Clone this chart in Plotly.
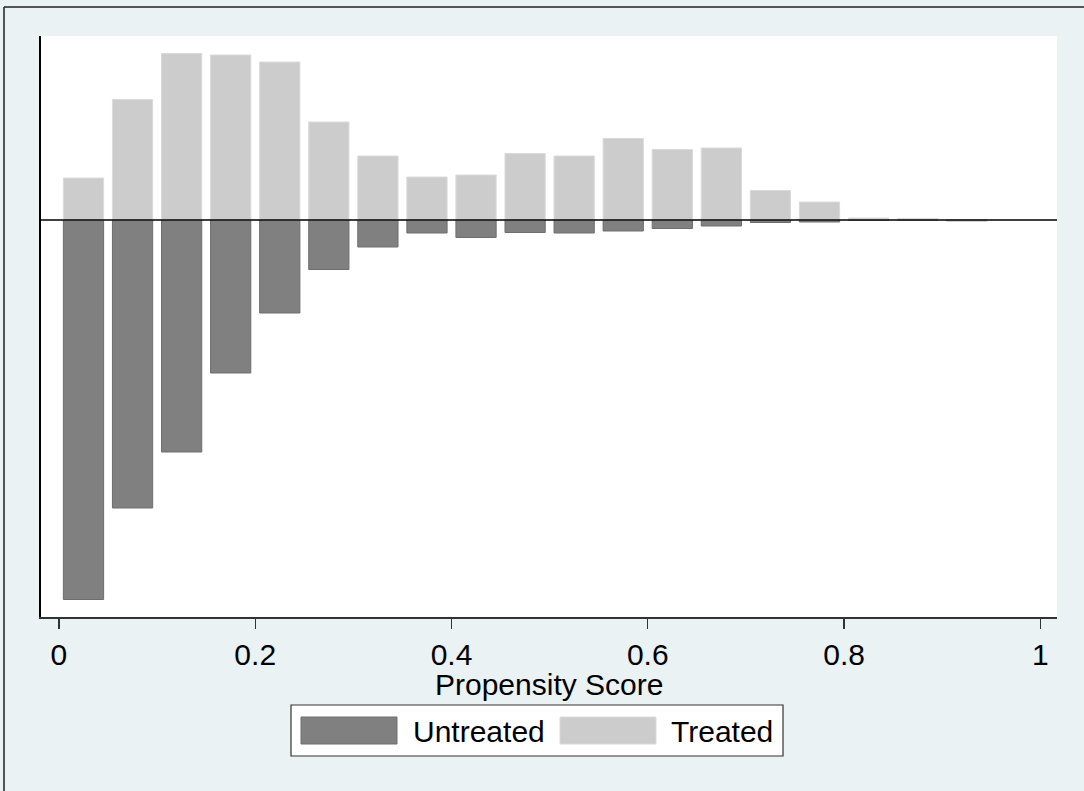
import plotly.graph_objects as go

# Propensity score bins (centres of 0.05-wide bins)
bin_centers = [0.025, 0.075, 0.125, 0.175, 0.225, 0.275, 0.325, 0.375, 0.425, 0.475,
               0.525, 0.575, 0.625, 0.675, 0.725, 0.775, 0.825, 0.875, 0.925]
# Relative frequencies (arbitrary units)
treated = [42, 120.5, 166.5, 165, 158, 98, 64, 43, 45, 66.5,
           64, 81.5, 70.5, 72, 29.5, 18, 2, 1.5, 0]
untreated = [379.5, 288, 232, 153, 93, 49.5, 27, 13, 17.5, 12.5,
             13, 11, 8.5, 6, 2.5, 2, 0.5, 0, 0.8]

x_ticks = [0, 0.2, 0.4, 0.6, 0.8, 1]
x_tick_labels = ["0", "0.2", "0.4", "0.6", "0.8", "1"]

FONT = "Liberation Sans, Arial, sans-serif"
BG = "#EAF2F3"

fig = go.Figure()
fig.add_trace(go.Bar(
    x=bin_centers, y=[-v for v in untreated], width=0.041, name="Untreated",
    marker=dict(color="#808080", line=dict(color="#6E6E6E", width=1)),
    showlegend=False, hoverinfo="skip",
))
fig.add_trace(go.Bar(
    x=bin_centers, y=treated, width=0.041, name="Treated",
    marker=dict(color="#CCCCCC", line=dict(color="#DADADA", width=1)),
    showlegend=False, hoverinfo="skip",
))

W, H = 1084, 791
ml, mr, mt, mb = 41, 27, 36, 174
pw, ph = W - ml - mr, H - mt - mb


def px(xp):
    return (xp - ml) / pw


def py(yp):
    return (H - mb - yp) / ph


shapes = [
    # zero line
    dict(type="line", xref="paper", yref="y", x0=0, x1=1, y0=0, y1=0,
         line=dict(color="black", width=1.5), layer="above"),
    # outer frame (top & left)
    dict(type="line", xref="paper", yref="paper", x0=px(4), x1=px(W + 5), y0=py(7), y1=py(7),
         line=dict(color="#222222", width=1.5)),
    dict(type="line", xref="paper", yref="paper", x0=px(4), x1=px(4), y0=py(7), y1=py(H + 5),
         line=dict(color="#222222", width=1.5)),
    # legend box
    dict(type="rect", xref="paper", yref="paper", x0=px(291), x1=px(783), y0=py(756), y1=py(705),
         fillcolor="white", line=dict(color="#333333", width=1.2)),
    dict(type="rect", xref="paper", yref="paper", x0=px(301), x1=px(397), y0=py(744), y1=py(717),
         fillcolor="#808080", line=dict(color="#6E6E6E", width=1)),
    dict(type="rect", xref="paper", yref="paper", x0=px(560), x1=px(656), y0=py(744), y1=py(717),
         fillcolor="#CCCCCC", line=dict(color="#DADADA", width=1)),
]

annotations = [
    dict(text="Propensity Score", xref="paper", yref="paper", x=0.5, y=py(684),
         xanchor="center", yanchor="middle", showarrow=False,
         font=dict(family=FONT, size=30, color="black")),
    dict(text="Untreated", xref="paper", yref="paper", x=px(411), y=py(731),
         xanchor="left", yanchor="middle", showarrow=False,
         font=dict(family=FONT, size=30, color="black")),
    dict(text="Treated", xref="paper", yref="paper", x=px(669), y=py(731),
         xanchor="left", yanchor="middle", showarrow=False,
         font=dict(family=FONT, size=30, color="black")),
]

fig.update_layout(
    width=W, height=H,
    margin=dict(l=ml, r=mr, t=mt, b=mb, pad=0),
    paper_bgcolor=BG, plot_bgcolor="white",
    barmode="overlay", bargap=0,
    font=dict(family=FONT, size=30, color="black"),
    shapes=shapes, annotations=annotations,
    showlegend=False, hovermode=False,
    xaxis=dict(range=[-0.0183, 1.017], tickvals=x_ticks, ticktext=x_tick_labels,
               ticks="outside", ticklen=10, tickwidth=1.2, tickcolor="#333333",
               showline=True, linecolor="#333333", linewidth=1.5,
               showgrid=False, zeroline=False, fixedrange=True,
               tickfont=dict(family=FONT, size=30, color="black")),
    yaxis=dict(range=[-397, 184], showticklabels=False, ticks="",
               showline=True, linecolor="black", linewidth=1.8,
               showgrid=False, zeroline=False, fixedrange=True),
)

fig.write_html("out.html", config={"displayModeBar": False, "staticPlot": True},
               post_script="document.body.style.margin='0px';document.body.style.overflow='hidden';")
